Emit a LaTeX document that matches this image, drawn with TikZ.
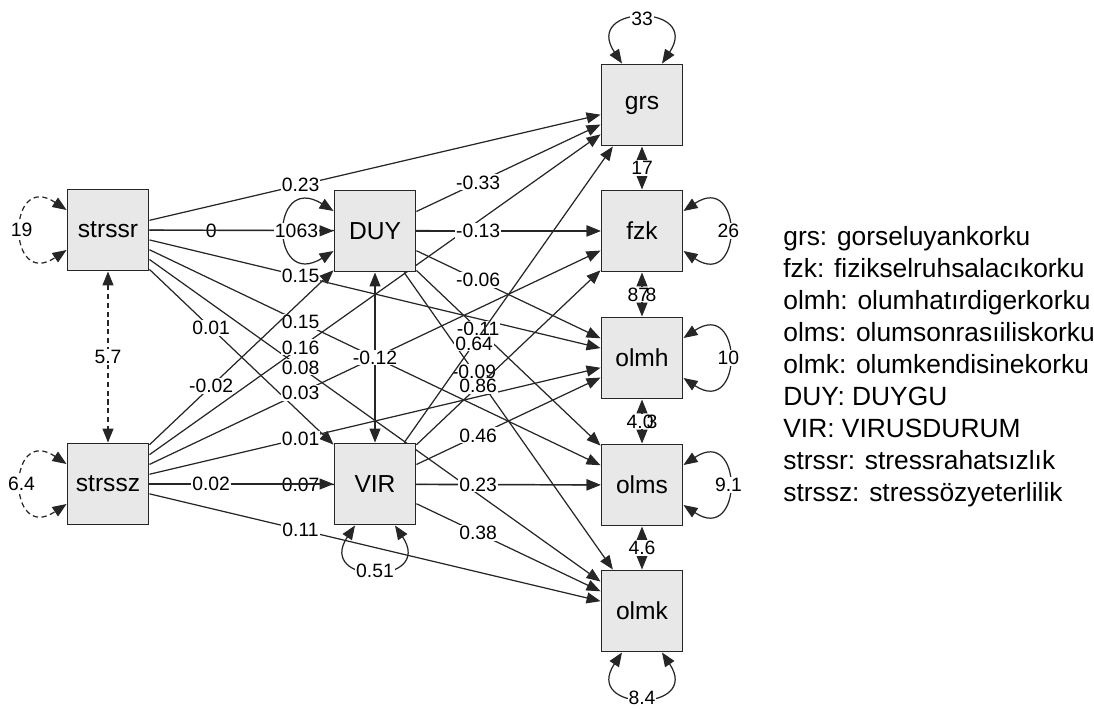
\documentclass[tikz,border=0pt]{standalone}
\usepackage{fontspec}
\setmainfont{Liberation Sans}
\usepackage{tikz}
\usetikzlibrary{arrows.meta}
\usetikzlibrary{backgrounds}
\tikzset{>={Triangle[length=2.8mm,width=2.2mm]}}

\begin{document}
\begin{tikzpicture}[x=0.02cm,y=-0.02cm,
	var/.style={draw=black!85,line width=1.1pt,fill=black!9,minimum size=1.62cm,inner sep=0pt,font=\fontsize{14}{16}\selectfont},
	reg/.style={->,line width=0.7pt,draw=black!85},
	cov/.style={<->,line width=0.7pt,draw=black!85},
	dsh/.style={dash pattern=on 3pt off 2pt},
	lbl/.style={fill=white,inner sep=0.6pt,font=\fontsize{11}{13}\selectfont,pos=0.335}]
	\useasboundingbox (0,0) rectangle (1094,708);
	% variables
	\node[var] (strssr) at (108,230) {strssr};
	\node[var] (strssz) at (108,484) {strssz};
	\node[var] (DUY) at (375,231) {DUY};
	\node[var] (VIR) at (375,484) {VIR};
	\node[var] (grs) at (642,105) {grs};
	\node[var] (fzk) at (642,231) {fzk};
	\node[var] (olmh) at (642,358) {olmh};
	\node[var] (olms) at (642,485) {olms};
	\node[var] (olmk) at (642,611) {olmk};
	\node[anchor=north west,align=left,inner sep=0pt,font=\fontsize{15}{18.21}\selectfont] (legend) at (783,226) {grs: gorseluyankorku\\fzk: fizikselruhsalacıkorku\\olmh: olumhatırdigerkorku\\olms: olumsonrasıiliskorku\\olmk: olumkendisinekorku\\DUY: DUYGU\\VIR: VIRUSDURUM\\strssr: stressrahatsızlık\\strssz: stressözyeterlilik};
	\begin{scope}[on background layer]
	% strssr
	\draw[reg] (strssr) -- node[lbl]{0.23} (grs);
	\draw[reg] (strssr) -- node[lbl]{0} (DUY);
	\draw[reg] (strssr) -- node[lbl,pos=.35]{63} (fzk);
	\draw[reg] (strssr) -- node[lbl]{0.15} (olmh);
	\draw[reg] (strssr) -- node[lbl]{0.15} (olms);
	\draw[reg] (strssr) -- node[lbl]{0.08} (olmk);
	\draw[reg] (strssr) -- node[lbl]{0.01} (VIR);
	% strssz
	\draw[reg] (strssz) -- node[lbl]{0.16} (grs);
	\draw[reg] (strssz) -- node[lbl]{0.03} (fzk);
	\draw[reg] (strssz) -- node[lbl]{0.01} (olmh);
	\draw[reg] (strssz) -- node[lbl]{0.07} (olms);
	\draw[reg] (strssz) -- node[lbl]{0.11} (olmk);
	\draw[reg] (strssz) -- node[lbl]{-0.02} (DUY);
	\draw[reg] (strssz) -- node[lbl]{0.02} (VIR);
	% DUY
	\draw[reg] (DUY) -- node[lbl]{-0.33} (grs);
	\draw[reg] (DUY) -- node[lbl]{-0.13} (fzk);
	\draw[reg] (DUY) -- node[lbl]{-0.06} (olmh);
	\draw[reg] (DUY) -- node[lbl]{-0.11} (olms);
	\draw[reg] (DUY) -- node[lbl]{-0.09} (olmk);
	% VIR
	\draw[reg] (VIR) -- node[lbl]{0.64} (grs);
	\draw[reg] (VIR) -- node[lbl]{0.86} (fzk);
	\draw[reg] (VIR) -- node[lbl]{0.46} (olmh);
	\draw[reg] (VIR) -- node[lbl]{0.23} (olms);
	\draw[reg] (VIR) -- node[lbl]{0.38} (olmk);
	% covariances
	\draw[cov,dsh] (strssr) -- node[lbl,pos=.5]{5.7} (strssz);
	\draw[cov] (DUY) -- node[lbl,pos=.5]{-0.12} (VIR);
	\draw[cov] (grs) -- node[lbl,pos=.5]{17} (fzk);
	\draw[cov] (fzk) -- node[lbl,pos=.5]{87\kern-2pt8} (olmh);
	\draw[cov] (olmh) -- node[lbl,pos=.5]{4.0\kern-4pt3} (olms);
	\draw[cov] (olms) -- node[lbl,pos=.5]{4.6} (olmk);
	% variances
	\draw[cov,dsh] ([yshift=0.4cm]strssr.west) .. controls +(-60,-40) and +(-60,40) .. node[lbl,pos=.5]{19} ([yshift=-0.4cm]strssr.west);
	\draw[cov,dsh] ([yshift=0.4cm]strssz.west) .. controls +(-60,-40) and +(-60,40) .. node[lbl,pos=.5]{6.4} ([yshift=-0.4cm]strssz.west);
	\draw[cov] ([yshift=0.4cm]DUY.west) .. controls +(-64,-40) and +(-64,40) .. node[lbl,pos=.5]{10} ([yshift=-0.4cm]DUY.west);
	\draw[cov] ([xshift=-0.4cm]VIR.south) .. controls +(-40,60) and +(40,60) .. node[lbl,pos=.5]{0.51} ([xshift=0.4cm]VIR.south);
	\draw[cov] ([xshift=-0.4cm]grs.north) .. controls +(-40,-60) and +(40,-60) .. node[lbl,pos=.5]{33} ([xshift=0.4cm]grs.north);
	\draw[cov] ([yshift=0.4cm]fzk.east) .. controls +(60,-40) and +(60,40) .. node[lbl,pos=.5]{26} ([yshift=-0.4cm]fzk.east);
	\draw[cov] ([yshift=0.4cm]olmh.east) .. controls +(60,-40) and +(60,40) .. node[lbl,pos=.5]{10} ([yshift=-0.4cm]olmh.east);
	\draw[cov] ([yshift=0.4cm]olms.east) .. controls +(60,-40) and +(60,40) .. node[lbl,pos=.5]{9.1} ([yshift=-0.4cm]olms.east);
	\draw[cov] ([xshift=-0.4cm]olmk.south) .. controls +(-40,60) and +(40,60) .. node[lbl,pos=.5]{8.4} ([xshift=0.4cm]olmk.south);
	\end{scope}
\end{tikzpicture}
\end{document}
